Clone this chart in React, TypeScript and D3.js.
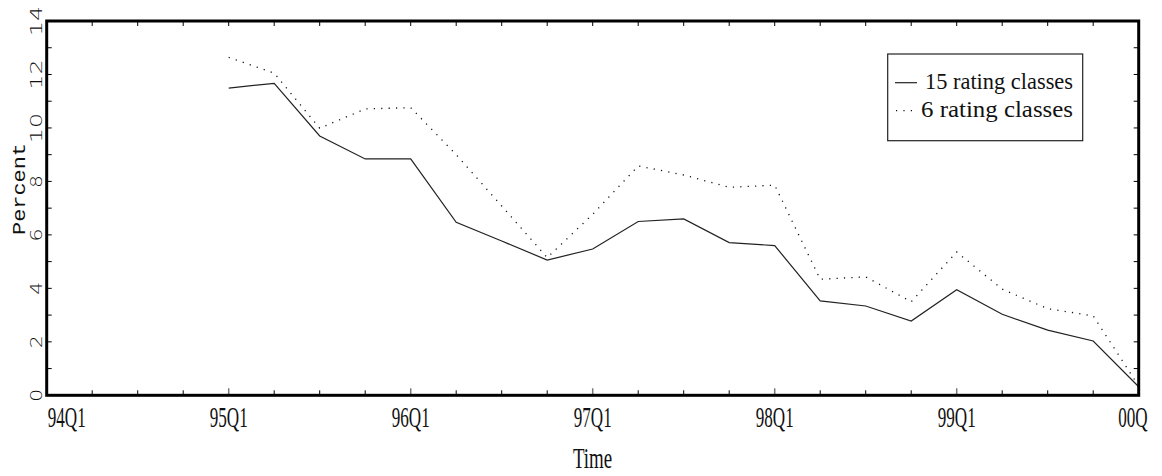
import * as d3 from 'd3';

// quarter index 0 = 94Q1, data starts at 95Q1 (index 4)
const yearLabels = ['94Q1', '95Q1', '96Q1', '97Q1', '98Q1', '99Q1', '00Q'];
const startQuarter = 4;
const classes15 = [
  11.49, 11.67, 9.7, 8.84, 8.84, 6.47, 5.77, 5.06, 5.47, 6.5, 6.6, 5.71, 5.6, 3.53, 3.34, 2.78,
  3.95, 3.03, 2.44, 2.03, 0.32,
];
const classes6 = [
  12.64, 12.05, 9.99, 10.71, 10.76, 9.0, 7.08, 5.15, 6.77, 8.58, 8.24, 7.78, 7.86, 4.34, 4.43,
  3.5, 5.36, 3.97, 3.24, 2.97, 0.35,
];
const legendLabels = ['15 rating classes', '6 rating classes'];

const width = 1162;
const height = 476;
const left = 46.7;
const right = 1138.7;
const top = 21;
const bottom = 395.3;

const serif = '"Liberation Serif", "Times New Roman", serif';
// condensed look of the tick labels
const squeeze = 0.57;

const App = () => {
  const x = d3.scaleLinear().domain([0, 24]).range([left, right]);
  const y = d3.scaleLinear().domain([0, 14]).range([bottom, top]);

  const line = d3
    .line<number>()
    .x((_, i) => x(i + startQuarter))
    .y((d) => y(d));

  const quarterTicks = x.ticks(24);
  const valueTicks = y.ticks(14);

  return (
    <svg
      width={width}
      height={height}
      style={{ position: 'absolute', left: 0, top: 0, background: '#fff' }}
    >
      {/* series */}
      <path d={line(classes15) ?? ''} fill='none' stroke='#222' strokeWidth={1.2} />
      <path
        d={line(classes6) ?? ''}
        fill='none'
        stroke='#111'
        strokeWidth={1.3}
        strokeDasharray='1.2 6.2'
      />

      {/* ticks: bottom and top */}
      {quarterTicks.map((q) => {
        const major = q % 4 === 0;
        return (
          <g key={'q' + q}>
            <line
              x1={x(q)}
              x2={x(q)}
              y1={bottom}
              y2={bottom - (major ? 7 : 5)}
              stroke={major ? '#777' : '#000'}
              strokeWidth={major ? 1.5 : 1}
            />
            <line x1={x(q)} x2={x(q)} y1={top} y2={top + 5} stroke='#000' strokeWidth={1} />
          </g>
        );
      })}

      {/* ticks: left and right */}
      {valueTicks.map((v) => (
        <g key={'v' + v}>
          <line x1={left} x2={left + 5} y1={y(v)} y2={y(v)} stroke='#000' strokeWidth={1} />
          <line x1={right} x2={right - 5} y1={y(v)} y2={y(v)} stroke='#000' strokeWidth={1} />
        </g>
      ))}

      {/* frame */}
      <rect
        x={left}
        y={top}
        width={right - left}
        height={bottom - top}
        fill='none'
        stroke='#000'
        strokeWidth={3}
      />

      {/* x tick labels */}
      <g fontFamily={serif} fontSize={30} fill='#111'>
        {yearLabels.map((s, i) => {
          const q = i * 4;
          const first = i === 0;
          const last = i === yearLabels.length - 1;
          const px = first ? x(q) + 1 : last ? x(q) - 20.5 : x(q);
          return (
            <text
              key={s}
              transform={`translate(${px},427) scale(${squeeze},1)`}
              textAnchor={first || last ? 'start' : 'middle'}
            >
              {s}
            </text>
          );
        })}
      </g>

      {/* y tick labels */}
      <g fontFamily='"DejaVu Sans", sans-serif' fontSize={16} fontWeight={300} fill='#111'>
        {valueTicks
          .filter((v) => v % 2 === 0)
          .map((v) => (
            <text
              key={'l' + v}
              transform={`translate(41.5,${y(v)}) rotate(-90)`}
              textAnchor='middle'
              textLength={v >= 10 ? 30 : 13}
              lengthAdjust='spacingAndGlyphs'
            >
              {v}
            </text>
          ))}
      </g>

      {/* axis titles */}
      <text
        transform='translate(25,189) rotate(-90)'
        textAnchor='middle'
        fontFamily='"Liberation Mono", monospace'
        fontSize={19}
        textLength={92}
        lengthAdjust='spacingAndGlyphs'
        fill='#111'
      >
        Percent
      </text>
      <text
        transform={`translate(592.5,467.7) scale(0.63,1)`}
        textAnchor='middle'
        fontFamily={serif}
        fontSize={30}
        fill='#111'
      >
        Time
      </text>

      {/* legend */}
      <rect x={887.7} y={54} width={195} height={86.7} fill='#fff' stroke='#222' strokeWidth={1.2} />
      <line x1={895} x2={917} y1={82.7} y2={82.7} stroke='#222' strokeWidth={1.2} />
      <line
        x1={896}
        x2={917}
        y1={110.7}
        y2={110.7}
        stroke='#111'
        strokeWidth={1.3}
        strokeDasharray='1.2 6.2'
      />
      <g fontFamily={serif} fontSize={24} fill='#111'>
        <text x={1073} y={89.3} textAnchor='end' textLength={148} lengthAdjust='spacingAndGlyphs'>
          {legendLabels[0]}
        </text>
        <text x={1073} y={116.7} textAnchor='end' textLength={152} lengthAdjust='spacingAndGlyphs'>
          {legendLabels[1]}
        </text>
      </g>
    </svg>
  );
};

export default App;
